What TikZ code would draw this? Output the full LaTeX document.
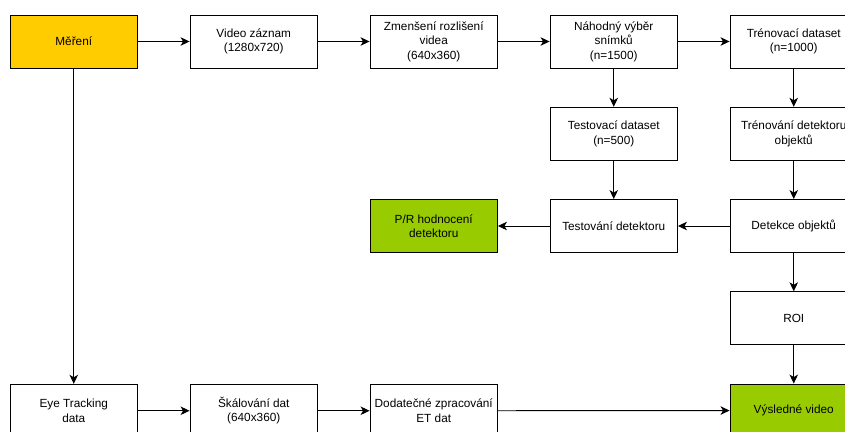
\documentclass[tikz,border=0pt]{standalone}
\usepackage{fontspec}
\setmainfont{Liberation Sans}
\usetikzlibrary{arrows.meta}
\definecolor{oranzova}{HTML}{FFCC00}
\definecolor{zelena}{HTML}{99CC00}
\begin{document}
\begin{tikzpicture}[x=1pt, y=1pt, node distance={180pt}, line width=0.9pt,
  main/.style = {draw, rectangle, minimum width=127.5pt, minimum height=53pt, inner sep=0pt, align=center, font=\fontsize{11.8}{14.5}\selectfont},
  >={Stealth[length=9pt, width=8.5pt, inset=2.5pt]}]
\useasboundingbox (0,0) rectangle (845,-431);
\clip (0,0) rectangle (845,-431);
\node[main, fill=oranzova] (1) at (73.75,-41.5) {Měření};
\node[main] (2) [right of=1] {Video záznam\\(1280x720)};
\node[main] (3) [right of=2] {Zmenšení rozlišení\\videa\\(640x360)};
\node[main] (4) [right of=3] {Náhodný výběr\\snímků\\(n=1500)};
\node[main] (5) [right of=4] {Trénovací dataset\\(n=1000)};
\node[main] (6) [below of=4, node distance=92.25pt] {Testovací dataset\\(n=500)};
\node[main] (7) [below of=5, node distance=92.25pt] {Trénování detektoru\\objektů};
\node[main] (8) [below of=6, node distance=92.25pt] {Testování detektoru};
\node[main] (9) [below of=7, node distance=92.25pt] {Detekce objektů};
\node[main, fill=zelena] (10) [left of=8] {P/R hodnocení\\detektoru};
\node[main] (11) [below of=9, node distance=92.25pt] {ROI};
\node[main, fill=zelena] (12) [below of=11, node distance=92.25pt] {Výsledné video};
\node[main] (13) at (73.75,-410.75) {Eye Tracking\\data};
\node[main] (14) [right of=13] {Škálování dat\\(640x360)};
\node[main] (15) [right of=14] {Dodatečné zpracování\\ET dat};
\draw[->] (1) -- (2);
\draw[->] (2) -- (3);
\draw[->] (3) -- (4);
\draw[->] (4) -- (5);
\draw[->] (4) -- (6);
\draw[->] (5) -- (7);
\draw[->] (6) -- (8);
\draw[->] (7) -- (9);
\draw[->] (9) -- (8);
\draw[->] (8) -- (10);
\draw[->] (9) -- (11);
\draw[->] (11) -- (12);
\draw[->] (1) -- (13);
\draw[->] (13) -- (14);
\draw[->] (14) -- (15);
\draw[->] (15) -- (12);
\end{tikzpicture}
\end{document}
